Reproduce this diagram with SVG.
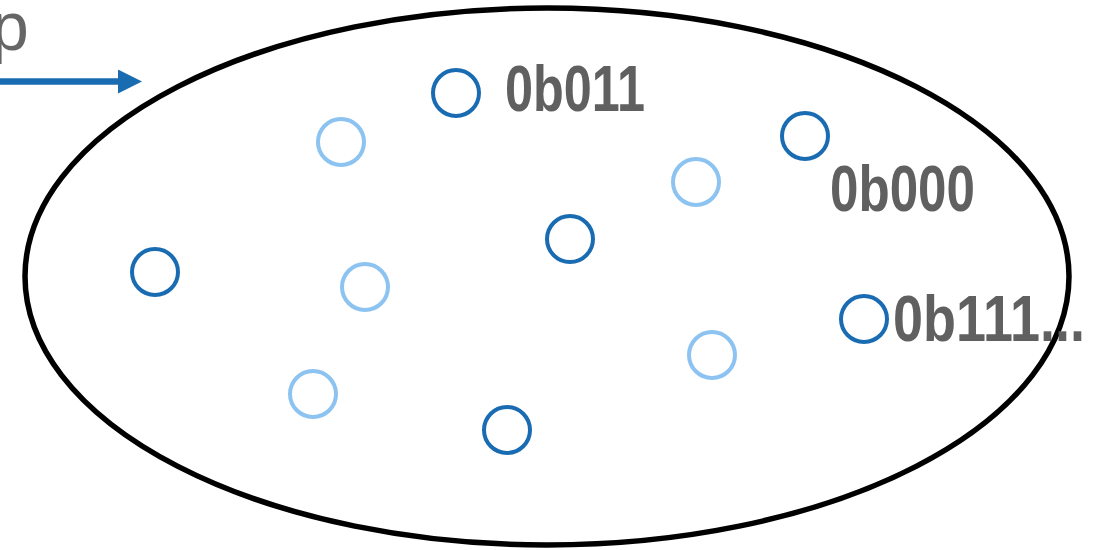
<svg xmlns="http://www.w3.org/2000/svg" width="1094" height="550" viewBox="0 0 1094 550">
  <style>
    .set { fill: none; stroke: #000; stroke-width: 5.5; }
    .el-dark { fill: none; stroke: #1a6cb2; stroke-width: 4; }
    .el-light { fill: none; stroke: #8cc3f0; stroke-width: 4; }
    .label { font-family: "Liberation Sans", Arial, sans-serif; font-weight: bold; font-size: 64px; fill: #606060; }
    .name { font-family: "Liberation Sans", Arial, sans-serif; font-size: 68px; fill: #666666; }
  </style>
  <defs>
    <marker id="arrowhead" markerWidth="24" markerHeight="24" refX="0" refY="12" orient="auto" markerUnits="userSpaceOnUse">
      <path d="M0,0 L24,12 L0,24 Z" fill="#1a6cb2"/>
    </marker>
  </defs>

  <!-- the set -->
  <g id="set">
    <ellipse class="set" cx="547" cy="276.5" rx="522" ry="268.5"/>
  </g>

  <!-- incoming pointer -->
  <g id="connectors">
    <line x1="-5" y1="81.5" x2="118" y2="81.5" stroke="#1a6cb2" stroke-width="6.5" marker-end="url(#arrowhead)"/>
  </g>
  <g id="pointer-label">
    <text class="name" x="-9" y="50">p</text>
  </g>

  <!-- elements -->
  <g id="e-0b011">
    <circle class="el-dark" cx="456" cy="93" r="23"/>
    <text class="label" x="505" y="111" textLength="140" lengthAdjust="spacingAndGlyphs">0b011</text>
  </g>
  <g id="e-0b000">
    <circle class="el-dark" cx="805" cy="136" r="23"/>
    <text class="label" x="830" y="211" textLength="145" lengthAdjust="spacingAndGlyphs">0b000</text>
  </g>
  <g id="e-0b111">
    <circle class="el-dark" cx="864" cy="319" r="23"/>
    <text class="label" x="893" y="341" textLength="192" lengthAdjust="spacingAndGlyphs">0b111...</text>
  </g>
  <g id="e-d1"><circle class="el-dark" cx="570" cy="239" r="23"/></g>
  <g id="e-d2"><circle class="el-dark" cx="155" cy="272" r="23"/></g>
  <g id="e-d3"><circle class="el-dark" cx="507" cy="430" r="23"/></g>
  <g id="e-l1"><circle class="el-light" cx="341" cy="142" r="23"/></g>
  <g id="e-l2"><circle class="el-light" cx="696" cy="182" r="23"/></g>
  <g id="e-l3"><circle class="el-light" cx="365" cy="287" r="23"/></g>
  <g id="e-l4"><circle class="el-light" cx="712" cy="355" r="23"/></g>
  <g id="e-l5"><circle class="el-light" cx="313" cy="394" r="23"/></g>
</svg>
